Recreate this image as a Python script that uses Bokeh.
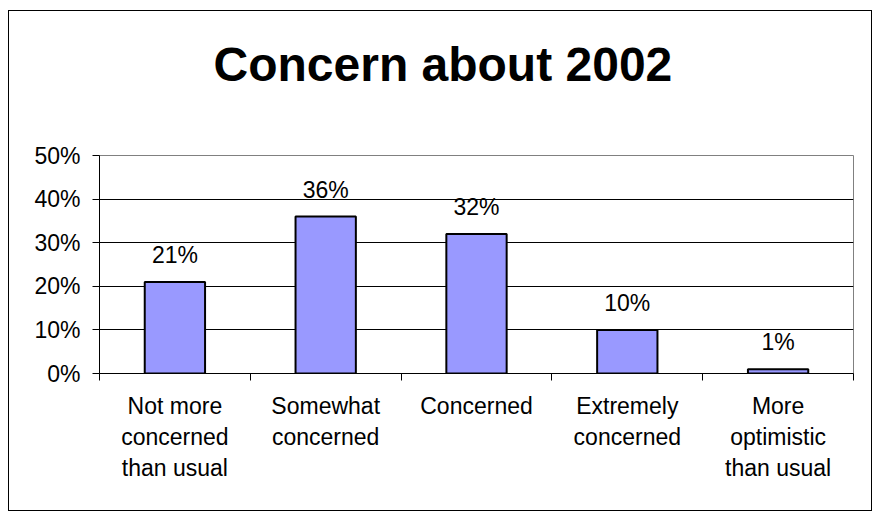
from bokeh.plotting import figure
from bokeh.models import Range1d, FixedTicker, NumeralTickFormatter, ColumnDataSource, Title
from bokeh.core.properties import value
from bokeh.embed import file_html
from bokeh.resources import INLINE

title_text = "Concern about 2002"
categories = ["Not more\nconcerned\nthan usual", "Somewhat\nconcerned", "Concerned",
              "Extremely\nconcerned", "More\noptimistic\nthan usual"]
values = [0.21, 0.36, 0.32, 0.10, 0.01]
value_labels = ["21%", "36%", "32%", "10%", "1%"]
y_ticks = [0.0, 0.1, 0.2, 0.3, 0.4, 0.5]

FONT = "Liberation Sans"

n = len(categories)
centers = [i + 0.5 for i in range(n)]
bounds = [float(i) for i in range(n + 1)]

p = figure(width=864, height=501, output_backend="svg", toolbar_location=None,
           x_range=Range1d(0, n), y_range=Range1d(0, 0.5),
           min_border_left=90, min_border_right=20, min_border_top=144, min_border_bottom=139)
p.styles = {"border": "1px solid black", "margin": "10px 0px 0px 8px"}
p.background_fill_color = "white"
p.border_fill_color = "white"
p.outline_line_color = "#808080"
p.outline_line_width = 1

t = Title(text=title_text, align="left", offset=114, vertical_align="bottom",
          text_font=FONT, text_font_size="48px", text_font_style="bold", text_color="black")
p.title = t

# empty spacer between the title and the plot area
spacer = Title(text=" ", text_font=FONT, text_font_size="43px", text_color="white")
p.add_layout(spacer, "above")

src = ColumnDataSource(dict(x=centers, top=values, lab=value_labels))
p.vbar(x="x", top="top", bottom=0, width=0.4, source=src,
       fill_color="#9999FF", line_color="black", line_width=2)
p.text(x="x", y="top", text="lab", source=src, y_offset=-27,
       text_align="center", text_baseline="alphabetic",
       text_font=value(FONT), text_font_size="23px", text_color="black")

# grid
p.xgrid.visible = False
p.ygrid.grid_line_color = "black"
p.ygrid.grid_line_width = 1
p.ygrid.ticker = FixedTicker(ticks=y_ticks)

# y axis
ya = p.yaxis[0]
ya.ticker = FixedTicker(ticks=y_ticks)
ya.formatter = NumeralTickFormatter(format="0%")
ya.axis_line_color = "black"
ya.major_tick_line_color = "black"
ya.major_tick_out = 7
ya.major_tick_in = 0
ya.minor_tick_line_color = None
ya.major_label_standoff = 12
ya.major_label_text_font = FONT
ya.major_label_text_font_size = "23px"
ya.major_label_text_color = "black"

# x axis
xa = p.xaxis[0]
xa.ticker = FixedTicker(ticks=centers, minor_ticks=bounds)
xa.major_label_overrides = {c: lab for c, lab in zip(centers, categories)}
xa.axis_line_color = "black"
xa.major_tick_line_color = None
xa.major_tick_out = 0
xa.major_tick_in = 0
xa.minor_tick_line_color = "black"
xa.minor_tick_out = 7
xa.minor_tick_in = 0
xa.major_label_standoff = 12
xa.major_label_text_font = FONT
xa.major_label_text_font_size = "23px"
xa.major_label_text_color = "black"
xa.major_label_text_line_height = 1.2

open("out.html", "w").write(file_html(p, INLINE))
